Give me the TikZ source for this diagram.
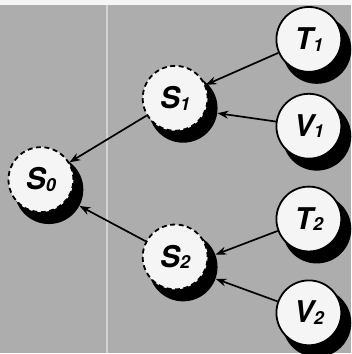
\documentclass[tikz,border=0pt]{standalone}
\usepackage{fontspec}
\setsansfont{TeX Gyre Heros}
\usepackage{tikz}
\usetikzlibrary{arrows.meta}
\definecolor{bggray}{gray}{0.68}
\definecolor{nodefill}{gray}{0.96}
\newcommand{\varlbl}[2]{\sffamily\bfseries\itshape
  \fontsize{30}{30}\selectfont #1\raisebox{-0.1ex}{\fontsize{18}{18}\selectfont #2}}
\tikzset{
  var/.style={
    circle, minimum size=65pt, inner sep=0pt,
    draw=black, fill=nodefill, line width=1.8pt,
  },
  hidden/.style={var, dashed, dash pattern=on 5pt off 3.5pt},
  castshadow/.style={circle, minimum size=69pt, inner sep=0pt, fill=black},
  arrow/.style={-{Stealth[length=11pt, width=8pt]}, line width=1.7pt, black},
}

\begin{document}
\begin{tikzpicture}[x=1pt, y=-1pt]

  % background
  \fill[bggray] (0,0) rectangle (352,354);
  \fill[white!92!gray] (0,0) rectangle (352,5);
  \draw[white!45!bggray, line width=1.5pt] (107,5) -- (107,354);
  \useasboundingbox (0,0) rectangle (352,354);

  % centres
  \coordinate (p-s0) at (41,180);
  \coordinate (p-s1) at (175.5,98.5);
  \coordinate (p-s2) at (175.5,257.5);
  \coordinate (p-t1) at (309.5,39.5);
  \coordinate (p-v1) at (309.5,126.5);
  \coordinate (p-t2) at (309.5,219.5);
  \coordinate (p-v2) at (309.5,313.5);

  % shadows, under the circles
  \foreach \n in {s0, s1, s2, t1, v1, t2, v2}
    \node[castshadow] (\n-sh) at ([shift={(8,10)}]p-\n) {};

  % hidden states
  \node[hidden] (s0) at (p-s0) {\varlbl{S}{0}};
  \node[hidden] (s1) at (p-s1) {\varlbl{S}{1}};
  \node[hidden] (s2) at (p-s2) {\varlbl{S}{2}};

  % observed variables
  \node[var] (t1) at (p-t1) {\varlbl{T}{1}};
  \node[var] (v1) at (p-v1) {\varlbl{V}{1}};
  \node[var] (t2) at (p-t2) {\varlbl{T}{2}};
  \node[var] (v2) at (p-v2) {\varlbl{V}{2}};

  % arrows (some end on the shadow rim)
  \foreach \from/\to in {t1/s1, v1/s1-sh, t2/s2-sh, v2/s2-sh, s1/s0, s2/s0-sh}
    \draw[arrow] (\from) -- (\to);

\end{tikzpicture}
\end{document}
